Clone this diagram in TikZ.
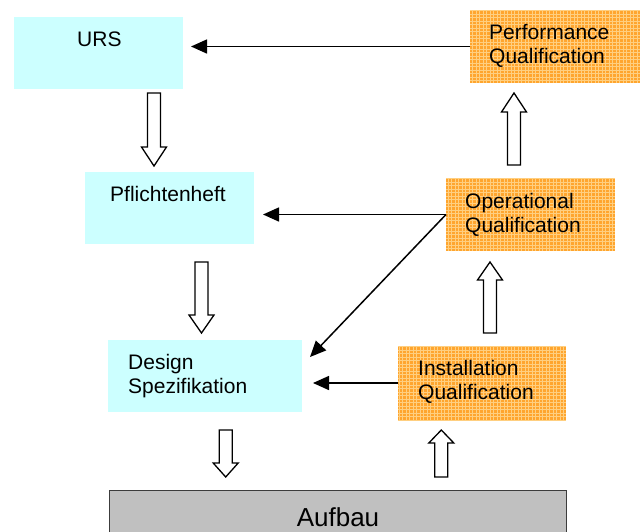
\documentclass[tikz,border=0pt]{standalone}
\usepackage{fontspec}
\setmainfont{Liberation Sans}
\usetikzlibrary{arrows.meta}
\definecolor{cyanbox}{HTML}{CCFFFF}
\definecolor{orangebox}{HTML}{FFA52E}
\definecolor{orangegrid}{HTML}{FFCF80}
\definecolor{aufbaugray}{HTML}{C0C0C0}
\newcommand{\hollowarrow}[4]{%
  \draw[blockarrow] ({#1-6.5},#2) -- ({#1+6.5},#2) -- ({#1+6.5},#3) -- ({#1+12.5},#3)
    -- (#1,#4) -- ({#1-12.5},#3) -- ({#1-6.5},#3) -- cycle;}
\begin{document}
\begin{tikzpicture}[x=1pt,y=-1pt,
  cbox/.style={fill=cyanbox, draw=none, inner sep=0pt, outer sep=0pt, anchor=north west},
  obox/.style={fill=orangebox, draw=none, inner sep=0pt, outer sep=0pt, anchor=north west},
  txt/.style={anchor=base west, inner sep=0pt, align=left, font=\fontsize{21}{24}\selectfont},
  conn/.style={line width=1.5pt, -{Triangle[length=16pt,width=14pt]}},
  blockarrow/.style={fill=white, draw=black, line width=1.3pt, line join=miter}]
\clip (0,0) rectangle (643,531);
\useasboundingbox (0,0) rectangle (643,531);
\fill[white] (0,0) rectangle (643,531);
% boxes
\node[cbox, minimum width=169pt, minimum height=72pt] (urs) at (14,17) {};
\node[cbox, minimum width=169pt, minimum height=72pt] (pfl) at (85,172) {};
\node[cbox, minimum width=194pt, minimum height=72pt] (design) at (108,340) {};
\node[obox, minimum width=170pt, minimum height=73pt] (perf) at (470,10) {};
\node[obox, minimum width=169pt, minimum height=73pt] (op) at (446,178) {};
\node[obox, minimum width=168pt, minimum height=74pt] (inst) at (398,346) {};
\foreach \n in {perf,op,inst}{
  \begin{scope}
    \clip (\n.north west) rectangle (\n.south east);
    \draw[orangegrid, line width=0.6pt, step=3.5pt] (\n.north west) grid (\n.south east);
  \end{scope}
}
\node[fill=aufbaugray, draw={rgb,255:red,60;green,60;blue,60}, line width=1.3pt,
      inner sep=0pt, anchor=north west, minimum width=457pt, minimum height=60pt] (aufbau) at (109,490) {};
% texts (anchor at baseline of last line)
\node[txt] (tu) at (77,46) {URS};
\node[txt] (tp) at (110,201) {Pflichtenheft};
\node[txt] (td) at (128,393) {Design\\Spezifikation};
\node[txt] (tpf) at (489,63) {Performance\\Qualification};
\node[txt] (top) at (465,232) {Operational\\Qualification};
\node[txt] (tin) at (418,399) {Installation\\Qualification};
\node[anchor=base, inner sep=0pt, font=\fontsize{26}{30}\selectfont] (ta) at (338,526) {Aufbau};
% line connectors
\coordinate (dtip) at (310,357);
\draw[conn, shorten >=8pt] (perf.west) -- (perf.west -| urs.east);
\draw[conn, shorten >=9pt] (op.west) -- (op.west -| pfl.east);
\draw[conn] (op.west) -- (dtip);
\draw[conn, shorten >=11pt] (inst.west) -- (inst.west -| design.east);
% block arrows
\hollowarrow{154}{93}{147}{166}
\hollowarrow{201.5}{262}{315}{333}
\hollowarrow{225.7}{430}{463}{477}
\hollowarrow{441.3}{477}{443}{430}
\hollowarrow{490}{333}{280}{262}
\hollowarrow{514}{165}{112}{93}
\end{tikzpicture}
\end{document}
